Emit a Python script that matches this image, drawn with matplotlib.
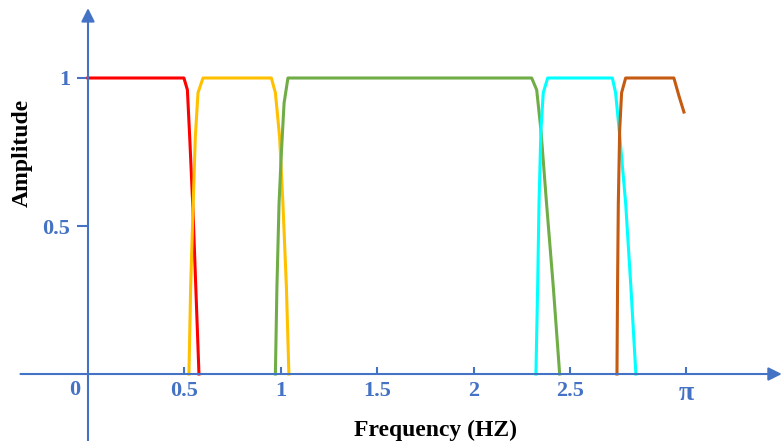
import matplotlib.pyplot as plt

# Band responses (frequency, amplitude)
red_x = [0.0, 0.497, 0.515, 0.527, 0.544, 0.575]
red_y = [1.0, 1.0, 0.96, 0.80, 0.554, 0.0]

yellow_x = [0.523, 0.532, 0.544, 0.556, 0.570, 0.596,
            0.950, 0.971, 0.993, 1.010, 1.028, 1.041]
yellow_y = [0.0, 0.295, 0.554, 0.80, 0.95, 1.0,
            1.0, 0.95, 0.80, 0.577, 0.295, 0.0]

green_x = [0.971, 0.979, 0.990, 1.002, 1.016, 1.036,
           2.299, 2.325, 2.347, 2.376, 2.411, 2.444]
green_y = [0.0, 0.295, 0.577, 0.746, 0.915, 1.0,
           1.0, 0.96, 0.824, 0.577, 0.295, 0.0]

cyan_x = [2.321, 2.330, 2.337, 2.347, 2.359, 2.382,
          2.717, 2.734, 2.756, 2.786, 2.813, 2.839]
cyan_y = [0.0, 0.295, 0.577, 0.824, 0.95, 1.0,
          1.0, 0.95, 0.80, 0.577, 0.295, 0.0]

brown_x = [2.741, 2.744, 2.748, 2.755, 2.765, 2.786, 3.036, 3.062, 3.088]
brown_y = [0.0, 0.295, 0.577, 0.824, 0.95, 1.0, 1.0, 0.94, 0.885]

xticks = [0.5, 1, 1.5, 2, 2.5, 3.1]
xtick_labels = ["0.5", "1", "1.5", "2", "2.5", "π"]
yticks = [0.5, 1]
ytick_labels = ["0.5", "1"]

AX = "#4472C4"
plt.rcParams["font.family"] = ["Liberation Serif", "DejaVu Serif"]

fig = plt.figure(figsize=(7.81, 4.41), dpi=100)
ax = fig.add_axes([0, 0, 1, 1])
ax.set_xlim(-0.456, 3.591)
ax.set_ylim(-0.2263, 1.2635)

ax.plot(red_x, red_y, color="#FF0000", lw=2.2)
ax.plot(yellow_x, yellow_y, color="#FFC000", lw=2.2)
ax.plot(green_x, green_y, color="#70AD47", lw=2.2)
ax.plot(cyan_x, cyan_y, color="#00FFFF", lw=2.2)
ax.plot(brown_x, brown_y, color="#C55A11", lw=2.2)

# axes through the origin, drawn as arrows
for s in ["top", "right", "left", "bottom"]:
    ax.spines[s].set_visible(False)
ax.spines["left"].set_position(("data", 0))
ax.spines["bottom"].set_position(("data", 0))
ax.annotate("", xy=(3.595, 0), xytext=(-0.35, 0), annotation_clip=False,
            arrowprops=dict(arrowstyle="-|>", color=AX, lw=1.5, mutation_scale=20,
                            shrinkA=0, shrinkB=0))
ax.annotate("", xy=(0, 1.236), xytext=(0, -0.23), annotation_clip=False,
            arrowprops=dict(arrowstyle="-|>", color=AX, lw=1.5, mutation_scale=20,
                            shrinkA=0, shrinkB=0))

ax.set_xticks(xticks)
ax.set_xticklabels(xtick_labels)
ax.set_yticks(yticks)
ax.set_yticklabels(ytick_labels)
ax.tick_params(axis="x", direction="in", length=5, width=1.5, color=AX,
               labelcolor=AX, labelsize=16, pad=5)
ax.tick_params(axis="y", direction="out", length=8, width=1.5, color=AX,
               labelcolor=AX, labelsize=16, pad=5)
for lab in ax.get_xticklabels() + ax.get_yticklabels():
    lab.set_fontweight("bold")
ax.get_xticklabels()[-1].set_fontsize(20)

ax.text(-0.068, -0.054, "0", color=AX, fontsize=16, fontweight="bold",
        ha="center", va="center")

fig.text(22 / 781, 1 - 153 / 441, "Amplitude", rotation=90, fontsize=17,
         fontweight="bold", ha="center", va="center")
fig.text(436 / 781, 1 - 430 / 441, "Frequency (HZ)", fontsize=17,
         fontweight="bold", ha="center", va="center")

fig.savefig("out.png", dpi=100)
